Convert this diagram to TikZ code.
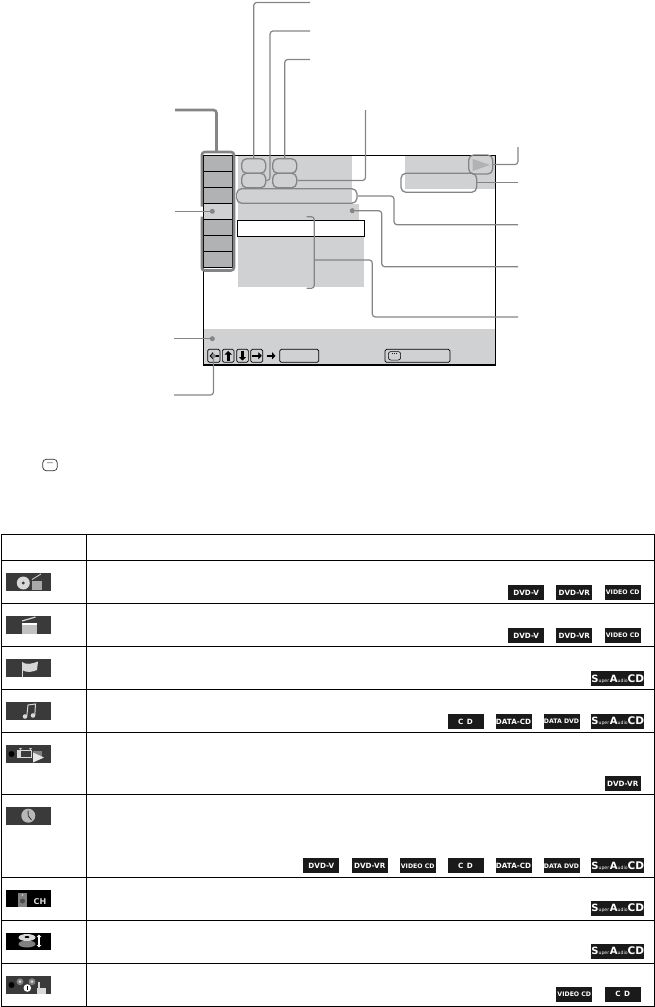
\documentclass[tikz,border=0pt]{standalone}
\usepackage{fontspec}
\usetikzlibrary{arrows.meta, positioning, calc}
\newfontfamily\badgefont{DejaVu Sans}
\definecolor{leadgray}{HTML}{858585}
\definecolor{cellgray}{HTML}{B0B2B4}
\definecolor{panelgray}{HTML}{D0D1D3}
\definecolor{icondark}{HTML}{3A3A3A}
\definecolor{iconlight}{HTML}{D8D8D8}
\definecolor{badgedark}{HTML}{1A1A1A}
\newcommand{\sacdlabel}{{\fontsize{10}{10}\selectfont S}{\fontsize{4.6}{5}\selectfont\mdseries uper\,}{\fontsize{10}{10}\selectfont A}{\fontsize{4.6}{5}\selectfont\mdseries udio}{\fontsize{10.5}{10}\selectfont CD}}

\begin{document}
\begin{tikzpicture}[
    x=1pt, y=-1pt,
    leader/.style={draw=leadgray, line width=1.2pt, rounded corners=3pt},
    leaderthick/.style={draw=leadgray, line width=2.6pt, rounded corners=3pt},
    oval/.style={draw=leadgray, line width=1.3pt, rounded corners=5pt, inner sep=0pt},
    leaderdot/.style={circle, fill=leadgray, inner sep=0pt, minimum size=5pt},
    cellbox/.style={draw=black, line width=0.7pt, fill=cellgray, inner sep=0pt,
      minimum width=28.5pt, minimum height=16pt},
    btnbox/.style={draw=black, line width=0.7pt, rounded corners=1.5pt, inner sep=0pt,
      minimum height=13pt},
    blockarrow/.style={line width=2.6pt, -{Triangle[length=3.5pt, width=7pt]}},
    iconbar/.style={fill=icondark, inner sep=0pt, minimum width=45.3pt, minimum height=18pt},
    badge/.style={fill=badgedark, text=white, inner sep=0pt, minimum width=36pt,
      minimum height=15pt, font=\badgefont\bfseries\fontsize{7.2}{8}\selectfont},
    badgesmall/.style={badge, font=\badgefont\bfseries\fontsize{6.2}{7}\selectfont},
    badgesacd/.style={badge, minimum width=51pt, font=\badgefont\bfseries\fontsize{10}{10}\selectfont},
  ]

  % Page size
  \useasboundingbox (0,0) rectangle (655,1007);

  % === Screen panels ===
  \fill[panelgray] (238,155) rectangle (351.5,204);
  \fill[panelgray] (238,204) rectangle (358.7,237);
  \fill[panelgray] (238,237) rectangle (363.7,287);
  \fill[panelgray] (405,155) rectangle (495,189.3);
  \fill[panelgray] (203,329) rectangle (495,365);
  \node[draw=black, line width=0.8pt, fill=white, inner sep=0pt,
        minimum width=127.4pt, minimum height=16pt] (listbar) at (301,228.3) {};

  % Screen frame
  \draw[black, line width=0.9pt] (203.5,365) -- (203.5,155.3) -- (495.3,155.3) -- (495.3,365);
  \draw[black, line width=1.7pt] (202.7,364.7) -- (496,364.7);

  % === Menu column ===
  \node[cellbox] (cellA) at (218,163.2) {};
  \node[cellbox] (cellB) at (218,179.2) {};
  \node[cellbox] (cellC) at (218,195.2) {};
  \node[cellbox, fill=panelgray] (cellD) at (218,211.2) {};
  \node[cellbox] (cellE) at (218,227.2) {};
  \node[cellbox] (cellF) at (218,243.2) {};
  \node[cellbox] (cellG) at (218,259.2) {};
  \draw[leaderthick] (201.8,206.5) -- (201.8,152) -- (234,152) -- (234,270.5)
    -- (201.8,270.5) -- (201.8,216.5);

  % === Ovals on the screen ===
  \node[oval, minimum width=24pt, minimum height=14.5pt] (ovalA) at (253.7,166) {};
  \node[oval, minimum width=24pt, minimum height=14.5pt] (ovalB) at (253.7,180.5) {};
  \node[oval, minimum width=24pt, minimum height=14.5pt] (ovalC) at (284.7,166) {};
  \node[oval, minimum width=24pt, minimum height=14.5pt] (ovalD) at (284.7,180.5) {};
  \node[oval, minimum width=120.3pt, minimum height=14.5pt] (ovalE) at (296.8,196) {};
  \fill[cellgray] (472.7,159) -- (490,165) -- (472.7,171) -- cycle;
  \node[oval, minimum width=24pt, minimum height=19pt] (ovalPlay) at (480.7,164.5) {};
  \node[oval, minimum width=75.7pt, minimum height=19pt] (ovalTime) at (438.8,182.8) {};

  % Dots
  \node[leaderdot] (dotMenu) at (212.3,211.3) {};
  \node[leaderdot] (dotList) at (352.3,210.7) {};
  \node[leaderdot] (dotBand) at (212.3,338.7) {};

  % === Free ends of the leaders ===
  \coordinate (endA) at (310,2.5);
  \coordinate (endB) at (310,31);
  \coordinate (bendB) at (270,180.5);
  \coordinate (endC) at (310,59.5);
  \coordinate (endD) at (365.5,110);
  \coordinate (endE) at (518,224.7);
  \coordinate (bendE) at (394,196);
  \coordinate (endList) at (518,266.7);
  \coordinate (bendList) at (381.7,210.7);
  \coordinate (endBrace) at (518,317);
  \coordinate (braceMid) at (314.3,260);
  \coordinate (bendBrace) at (372.3,260);
  \coordinate (endPlay) at (518,147);
  \coordinate (endTime) at (518,182.8);
  \coordinate (endMenu) at (175,110);
  \coordinate (topMenu) at (216.5,151);
  \coordinate (endCell) at (175,211.3);
  \coordinate (endBand) at (174,338.7);
  \coordinate (endBtn) at (174,395);

  % === Leaders ===
  \draw[leader] (ovalA.north) |- (endA);
  \draw[leader] (ovalB.east) -- (bendB) |- (endB);
  \draw[leader] (ovalC.north) |- (endC);
  \draw[leader] (ovalD.east) -| (endD);
  \draw[leader] (ovalE.east) -- (bendE) |- (endE);
  \draw[leader] (dotList) -- (bendList) |- (endList);
  \draw[leader] (306.7,216.7) -- (314.3,216.7) -- (314.3,288.3) -- (306.7,288.3);
  \draw[leader] (braceMid) -- (bendBrace) |- (endBrace);
  \draw[leader] (ovalPlay.east) -| (endPlay);
  \draw[leader] (ovalTime.east) -- (endTime);
  \draw[leaderthick] (endMenu) -| (topMenu);
  \draw[leader] (endCell) -- (dotMenu);
  \draw[leader] (endBand) -- (dotBand);

  % === Buttons in the band ===
  \node[btnbox, minimum width=12.3pt] (btnLeft) at (213.8,355.8) {};
  \node[btnbox, minimum width=11.7pt] (btnUp) at (228.2,355.8) {};
  \node[btnbox, minimum width=11.7pt] (btnDown) at (242.5,355.8) {};
  \node[btnbox, minimum width=12pt] (btnRight) at (256.7,355.8) {};
  \node[btnbox, minimum width=39pt] (btnWide) at (299.2,355.8) {};
  \node[btnbox, minimum width=65pt] (btnReturn) at (417.5,355.8) {};
  \draw[black, blockarrow] (218.5,355.8) -- (209.5,355.8);
  \draw[black, blockarrow] (228.2,360.5) -- (228.2,351);
  \draw[black, blockarrow] (242.5,351) -- (242.5,360.5);
  \draw[black, blockarrow] (251.8,355.8) -- (261.8,355.8);
  \draw[black, blockarrow] (267.3,355.8) -- (275.5,355.8);
  \node[draw=black, line width=0.6pt, rounded corners=2.5pt, inner sep=0pt,
        minimum width=12.3pt, minimum height=8.5pt] (keyReturn) at (394.5,355.8) {};
  \fill[black] (392.5,353.6) circle (0.5pt) (394.5,353.6) circle (0.5pt) (396.5,353.6) circle (0.5pt);
  \node[leaderdot, minimum size=4.5pt] (dotBtn) at (213.5,355.8) {};
  \draw[leader] (dotBtn) |- (endBtn);

  % Key sign under the screen
  \node[draw=black!80, line width=0.7pt, rounded corners=3.5pt, inner sep=0pt,
        minimum width=14.5pt, minimum height=11.4pt] (keySign) at (50,465) {};
  \fill[black!80] (48,462.8) circle (0.6pt) (50,462.8) circle (0.6pt) (52,462.8) circle (0.6pt);

  % === Table rules ===
  \draw[black, line width=1pt] (1,534.3) rectangle (654.3,1006.3);
  \draw[black, line width=1pt] (86.4,534.3) -- (86.4,1006.3);
  \draw[black, line width=1pt] (1,560.3) -- (654.3,560.3);
  \draw[black, line width=1pt] (1,603.3) -- (654.3,603.3);
  \draw[black, line width=1pt] (1,646.3) -- (654.3,646.3);
  \draw[black, line width=1pt] (1,689.3) -- (654.3,689.3);
  \draw[black, line width=1pt] (1,732.3) -- (654.3,732.3);
  \draw[black, line width=1pt] (1,794.3) -- (654.3,794.3);
  \draw[black, line width=1pt] (1,877.3) -- (654.3,877.3);
  \draw[black, line width=1pt] (1,920.3) -- (654.3,920.3);
  \draw[black, line width=1pt] (1,963.3) -- (654.3,963.3);

  % === Icons, first column ===
  \node[iconbar] (iconA) at (28.6,581.8) {};
  \fill[iconlight] (23.3,583) circle (6.5pt);
  \fill[icondark] (23.3,583) circle (1.6pt);
  \fill[iconlight!70!icondark] (31.7,581) rectangle (41.7,590);
  \draw[iconlight, line width=0.8pt] (32,579.5) -- (41,574);

  \node[iconbar] (iconB) at (28.6,624.8) {};
  \fill[iconlight!85!icondark] (21.7,623.3) rectangle (36.7,634);
  \fill[white] (21.7,623.3) rectangle (36.7,624.6);
  \draw[iconlight, line width=1.2pt] (22,621) -- (35.5,617);

  \node[iconbar] (iconC) at (28.6,667.8) {};
  \fill[iconlight] (22,662) .. controls (26,665) and (32,664) .. (38,661.5) -- (37,670)
    .. controls (32,672) and (27,673) .. (22,670) -- cycle;
  \draw[iconlight, line width=0.8pt] (22,662) -- (22,676.5);

  \node[iconbar] (iconD) at (28.6,710.8) {};
  \fill[iconlight] (25,716.5) circle (2.3pt) (33,715.5) circle (2.3pt);
  \draw[iconlight, line width=1pt] (26.8,716) -- (28,705) -- (35.5,704) -- (34.8,715);

  \node[iconbar] (iconE) at (28.6,753.8) {};
  \fill[black] (11.5,754) circle (3pt);
  \draw[iconlight, line width=1pt, fill=icondark] (17,750) rectangle (31,757.5);
  \fill[iconlight] (17,750) rectangle (21,757.5);
  \fill[iconlight] (19,748) -- (22,748) -- (20.5,750) -- cycle;
  \fill[iconlight] (29,748) -- (32,748) -- (30.5,750) -- cycle;
  \fill[gray] (33,751) rectangle (42,757);
  \fill[white!90!black] (33,752.5) -- (44,757.5) -- (33,762.5) -- cycle;

  \node[iconbar] (iconF) at (28.6,815.8) {};
  \fill[iconlight!85!black] (28.3,815.7) circle (7pt);
  \draw[icondark, line width=0.9pt] (28,810.5) -- (28.3,816) -- (31.5,820);

  \node[iconbar, fill=black, minimum height=17pt] (iconG) at (28.6,898.5) {};
  \fill[gray] (18.3,892.7) rectangle (26.7,906.5);
  \fill[black!70] (22.5,901) circle (2.5pt);
  \fill[iconlight] (22.5,895) circle (0.8pt);
  \node[text=iconlight, inner sep=0pt, font=\badgefont\bfseries\fontsize{8}{8}\selectfont]
    (iconGlabel) at (33.5,901.5) [anchor=west] {CH};

  \node[iconbar, fill=black, minimum height=17pt] (iconH) at (28.6,941.5) {};
  \fill[gray] (27,944) ellipse (8.5pt and 3.5pt);
  \fill[iconlight] (27,937.5) ellipse (8.5pt and 3.5pt);
  \fill[black] (27,937) ellipse (2.5pt and 1pt);
  \draw[white, line width=1.2pt, {Triangle[length=2.5pt, width=4.5pt]}-{Triangle[length=2.5pt, width=4.5pt]}]
    (39,934.5) -- (39,947.5);

  \node[iconbar] (iconI) at (28.6,985) {};
  \fill[black] (11.5,985) circle (3pt);
  \fill[gray] (20,981.7) circle (3.5pt) (32,981.7) circle (3.5pt);
  \fill[iconlight] (20,981.7) circle (1.5pt) (32,981.7) circle (1.5pt);
  \fill[white] (27.3,988) circle (3.8pt);
  \fill[black] (27,985.8) rectangle (28,990.3);
  \fill[iconlight] (36.5,987.5) rectangle (46,993.5);
  \fill[iconlight] (38,982) rectangle (40,988);

  % === Badges, last column ===
  \node[badge] (dvdA) at (526.2,592.5) {DVD-V};
  \node[badge] (dvrA) at (574.3,592.5) {DVD-VR};
  \node[badgesmall] (vcdA) at (622.7,592.5) {VIDEO CD};

  \node[badge] (dvdB) at (526.2,635.5) {DVD-V};
  \node[badge] (dvrB) at (574.3,635.5) {DVD-VR};
  \node[badgesmall] (vcdB) at (622.7,635.5) {VIDEO CD};

  \node[badgesacd] (sacdC) at (617.7,678.7) {\sacdlabel};

  \node[badge] (cddD) at (465.5,721.5) {C\hspace{3.5pt}D};
  \node[badge] (dcdD) at (513.5,721.5) {DATA-CD};
  \node[badgesmall] (ddvD) at (561.5,721.5) {DATA DVD};
  \node[badgesacd] (sacdD) at (617.7,721.5) {\sacdlabel};

  \node[badge] (dvrE) at (622.7,783.4) {DVD-VR};

  \node[badge] (dvdF) at (321.3,865.8) {DVD-V};
  \node[badge] (dvrF) at (369.7,865.8) {DVD-VR};
  \node[badgesmall] (vcdF) at (417.7,865.8) {VIDEO CD};
  \node[badge] (cddF) at (465.5,865.8) {C\hspace{3.5pt}D};
  \node[badge] (dcdF) at (513.5,865.8) {DATA-CD};
  \node[badgesmall] (ddvF) at (561.5,865.8) {DATA DVD};
  \node[badgesacd] (sacdF) at (617.7,865.8) {\sacdlabel};

  \node[badgesacd] (sacdG) at (617.7,908) {\sacdlabel};
  \node[badgesacd] (sacdH) at (617.7,951) {\sacdlabel};

  \node[badgesmall] (vcdI) at (574.3,994) {VIDEO CD};
  \node[badge] (cddI) at (622.7,994) {C\hspace{3.5pt}D};

\end{tikzpicture}
\end{document}
